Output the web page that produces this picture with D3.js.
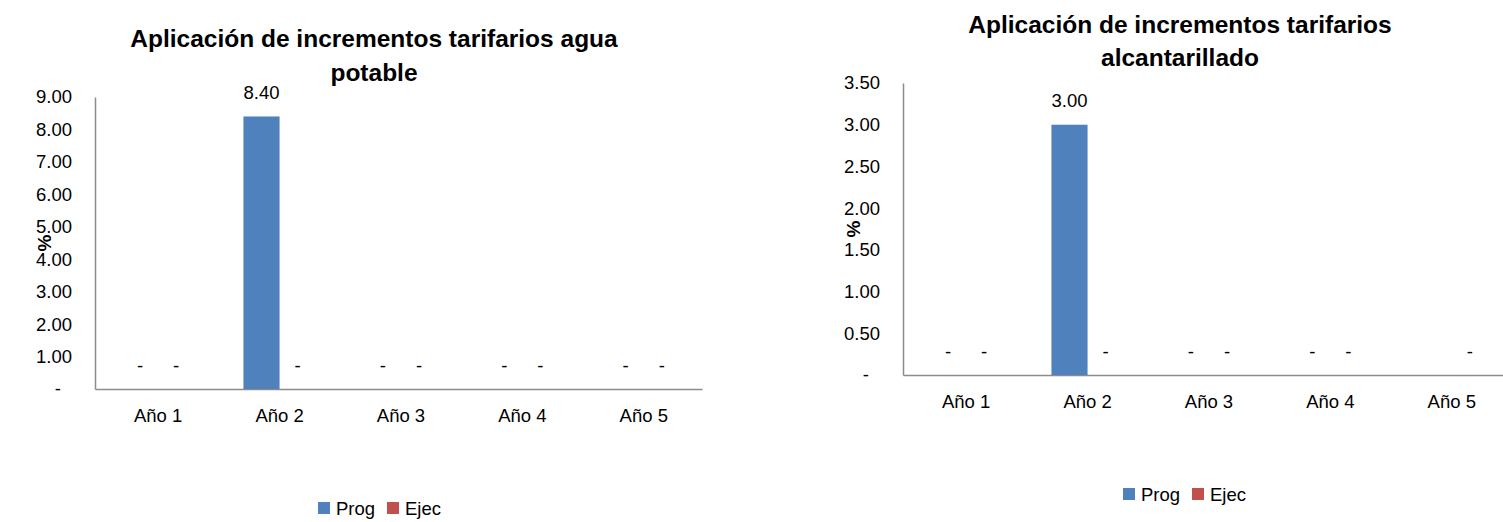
<!DOCTYPE html>
<html>
<head>
<meta charset="utf-8">
<script src="https://cdn.jsdelivr.net/npm/d3@7"></script>
<style>
  html, body { margin: 0; padding: 0; background: #fff; }
  svg { display: block; font-family: "Liberation Sans", Arial, sans-serif; }
</style>
</head>
<body>
<svg id="chart" width="1503" height="522"></svg>
<script>
// ---- data ----
const categories = ["Año 1", "Año 2", "Año 3", "Año 4", "Año 5"];
const seriesNames = ["Prog", "Ejec"];
const seriesColors = ["#4F81BD", "#C0504D"];

const aguaTitle = ["Aplicación de incrementos tarifarios agua", "potable"];
const aguaProg = [0, 8.4, 0, 0, 0];
const aguaEjec = [0, 0, 0, 0, 0];
const aguaTicks = [0, 1, 2, 3, 4, 5, 6, 7, 8, 9];

const alcTitle = ["Aplicación de incrementos tarifarios", "alcantarillado"];
const alcProg = [0, 3.0, 0, 0, null];
const alcEjec = [0, 0, 0, 0, 0];
const alcTicks = [0, 0.5, 1, 1.5, 2, 2.5, 3, 3.5];

const yLabel = "%";

// ---- layout ----
const charts = [
  { title: aguaTitle, prog: aguaProg, ejec: aguaEjec, ticks: aguaTicks,
    left: 95, right: 702, top: 97, bottom: 389, titleX: 374, titleY: [38, 72],
    yLabelX: 44, legendY: 508, legendX: 318 },
  { title: alcTitle, prog: alcProg, ejec: alcEjec, ticks: alcTicks,
    left: 903, right: 1510, top: 83, bottom: 375, titleX: 1180, titleY: [24, 57],
    yLabelX: 853, legendY: 494, legendX: 1123 }
];

const svg = d3.select("#chart");
const fmt = v => v === 0 ? "-" : d3.format(".2f")(v);

charts.forEach(c => {
  const g = svg.append("g");
  const x = d3.scaleBand().domain(categories).range([c.left, c.right])
    .paddingInner(0.405).paddingOuter(0.2025).align(0.55);
  const xs = d3.scaleBand().domain(seriesNames).range([0, x.bandwidth()]);
  const y = d3.scaleLinear().domain([0, d3.max(c.ticks)]).range([c.bottom, c.top]);

  // title
  c.title.forEach((t, i) => {
    g.append("text").attr("x", c.titleX).attr("y", c.titleY[i])
      .attr("text-anchor", "middle").attr("dominant-baseline", "central")
      .attr("font-size", 24.5).attr("font-weight", "bold").attr("fill", "#000").text(t);
  });

  // y axis
  const yAxis = g.append("g").attr("transform", `translate(${c.left},0)`)
    .call(d3.axisLeft(y).tickValues(c.ticks).tickFormat(fmt).tickSize(0).tickPadding(23));
  yAxis.select(".domain").attr("stroke", "#8c8c8c").attr("stroke-width", 1.5);
  yAxis.selectAll("text").attr("font-size", 18.5).attr("fill", "#000")
    .attr("font-family", '"Liberation Sans", Arial, sans-serif')
    .attr("dx", d => d === 0 ? -11 : 0);

  // x axis
  const xAxis = g.append("g").attr("transform", `translate(0,${c.bottom})`)
    .call(d3.axisBottom(x).tickSize(0).tickPadding(20));
  xAxis.select(".domain").attr("stroke", "#8c8c8c").attr("stroke-width", 1.5);
  xAxis.selectAll("text").attr("font-size", 18.5).attr("fill", "#000")
    .attr("font-family", '"Liberation Sans", Arial, sans-serif');

  // bars
  const rows = categories.map((cat, i) => ({ cat, vals: [c.prog[i], c.ejec[i]] }));
  const grp = g.selectAll(".grp").data(rows).enter().append("g")
    .attr("transform", d => `translate(${x(d.cat)},0)`);
  const cells = grp.selectAll(".cell")
    .data(d => d.vals.map((v, j) => ({ v, s: seriesNames[j], color: seriesColors[j] })))
    .enter();
  cells.filter(d => d.v !== null && d.v > 0).append("rect")
    .attr("x", d => xs(d.s)).attr("width", xs.bandwidth())
    .attr("y", d => y(d.v)).attr("height", d => y(0) - y(d.v))
    .attr("fill", d => d.color);
  cells.filter(d => d.v !== null).append("text")
    .attr("x", d => xs(d.s) + xs.bandwidth() / 2)
    .attr("y", d => y(d.v) - 24)
    .attr("text-anchor", "middle").attr("dominant-baseline", "central")
    .attr("font-size", 18.5).attr("fill", "#000")
    .text(d => fmt(d.v));

  // y label
  g.append("text").attr("transform", `translate(${c.yLabelX},${(c.top + c.bottom) / 2}) rotate(-90)`)
    .attr("text-anchor", "middle").attr("dominant-baseline", "central")
    .attr("font-size", 19).attr("font-weight", "bold").attr("fill", "#000").text(yLabel);

  // legend
  const lg = g.append("g").attr("transform", `translate(${c.legendX},${c.legendY})`);
  const offsets = [0, 69];
  seriesNames.forEach((s, i) => {
    lg.append("rect").attr("x", offsets[i]).attr("y", -6).attr("width", 12).attr("height", 12)
      .attr("fill", seriesColors[i]);
    lg.append("text").attr("x", offsets[i] + 18).attr("y", 0).attr("dominant-baseline", "central")
      .attr("font-size", 18.5).attr("fill", "#000").text(s);
  });
});
</script>
</body>
</html>
